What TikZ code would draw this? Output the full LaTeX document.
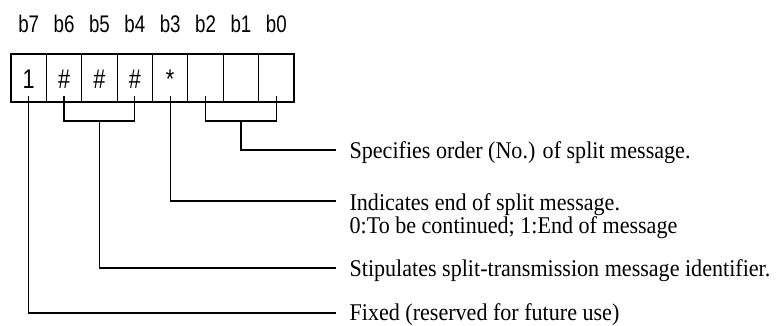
\documentclass[tikz,border=0pt]{standalone}
\usepackage{fontspec}
\setmainfont[FakeStretch=0.92]{Liberation Serif}
\newfontfamily\labelsans{Liberation Sans}
\begin{document}
\begin{tikzpicture}[x=1pt,y=-1pt,line width=1.2pt,
  cell/.style={draw, minimum width=35.375pt, minimum height=48pt, inner sep=0pt},
  celltext/.style={anchor=base, inner sep=0pt, xscale=0.8, transform shape, font=\labelsans\fontsize{27}{27}\selectfont},
  bitlabel/.style={anchor=base, inner sep=0pt, xscale=0.78, transform shape, font=\labelsans\fontsize{24}{24}\selectfont},
  desc/.style={anchor=base west, inner sep=0pt, font=\fontsize{24}{22}\selectfont},
  descml/.style={anchor=north west, inner sep=0pt, align=left, font=\fontsize{24}{22}\selectfont},
  wire/.style={line width=1.2pt}]
\useasboundingbox (0,0) rectangle (781,325);
% cells
\foreach \i/\t [count=\k from 0] in {7/1,6/\#,5/\#,4/\#,3/*,2/{},1/{},0/{}} {
  \node[cell] (c\i) at ({11+35.375*(\k+0.5)},78) {};
  \node[celltext] (t\i) at ({11+35.375*(\k+0.5)},88) {\t};
  \node[bitlabel] (l\i) at ({11+35.375*(\k+0.5)},32) {b\i};
}
\coordinate (bry) at (0,121);
\coordinate (k1) at (336,150);
\coordinate (k3) at (336,201);
\coordinate (k5) at (336,268);
\coordinate (k7) at (336,313);
% texts
\node[desc] (d1) at (349,158) {Specifies order (No.) of split message.};
\node[descml] (d3) at (349,192.6) {Indicates end of split message.\\0:To be continued; 1:End of message};
\node[desc] (d5) at (349,276) {Stipulates split-transmission message identifier.};
\node[desc] (d7) at (349,320) {Fixed (reserved for future use)};
% connectors
\draw[wire] ([yshift=7pt]c2.south) -- (c2 |- bry) -- (c0 |- bry) -- ([yshift=7pt]c0.south);
\draw[wire] (c1 |- bry) |- (k1);
\draw[wire] ([yshift=7pt]c3.south) |- (k3);
\draw[wire] ([yshift=7pt]c6.south) -- (c6 |- bry) -- (c4 |- bry) -- ([yshift=7pt]c4.south);
\draw[wire] (c5 |- bry) |- (k5);
\draw[wire] ([yshift=7pt]c7.south) |- (k7);
\end{tikzpicture}
\end{document}
